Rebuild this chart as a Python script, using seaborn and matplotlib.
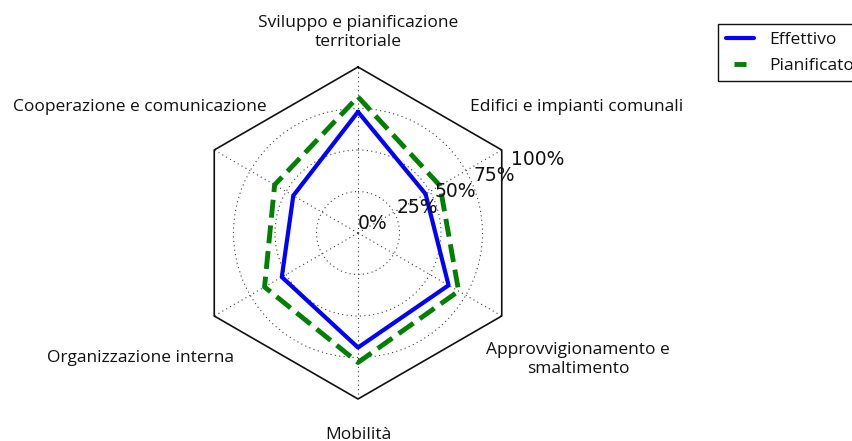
import numpy as np
import pandas as pd
import seaborn as sns
import matplotlib.pyplot as plt
from matplotlib.patches import Polygon
from matplotlib.lines import Line2D

sns.set_style("white")
plt.rcParams['font.family'] = ['Open Sans', 'DejaVu Sans']
plt.rcParams['text.color'] = '#111111'

categories = ["Sviluppo e pianificazione\nterritoriale",
              "Edifici e impianti comunali",
              "Approvvigionamento e\nsmaltimento",
              "Mobilità",
              "Organizzazione interna",
              "Cooperazione e comunicazione"]
effettivo = [0.73, 0.47, 0.63, 0.69, 0.53, 0.45]
pianificato = [0.82, 0.57, 0.70, 0.78, 0.65, 0.58]
r_ticks = [0, 0.25, 0.5, 0.75, 1.0]
r_labels = ["0%", "25%", "50%", "75%", "100%"]

n = len(categories)
angles = np.linspace(0, 2 * np.pi, n + 1)

df = pd.DataFrame({
    "angle": np.concatenate([angles, angles]),
    "value": effettivo + effettivo[:1] + pianificato + pianificato[:1],
    "serie": ["Effettivo"] * (n + 1) + ["Pianificato"] * (n + 1),
})

fig = plt.figure(figsize=(8.53, 4.41), dpi=100)
ax = fig.add_axes([192 / 853, 42 / 441, 332 / 853, 332 / 441], projection="polar")
ax.set_theta_offset(np.pi / 2)
ax.set_theta_direction(-1)

sns.lineplot(data=df[df.serie == "Effettivo"], x="angle", y="value", ax=ax,
             color="#0000ff", lw=3, sort=False, legend=False)
sns.lineplot(data=df[df.serie == "Pianificato"], x="angle", y="value", ax=ax,
             color="#008000", lw=3.5, ls="--", sort=False, legend=False)

ax.set_ylim(0, 1)
ax.set_xlabel("")
ax.set_ylabel("")
ax.set_xticks(angles[:-1])
ax.set_xticklabels([])
ax.set_yticks(r_ticks[1:])
ax.set_yticklabels([])
ax.spines["polar"].set_visible(False)

# hexagon frame
hexagon = Polygon(np.column_stack([angles[:-1], np.ones(n)]), closed=True,
                  transform=ax.transData, facecolor="none", edgecolor="none")
ax.add_patch(hexagon)
ax.plot(angles, np.ones(n + 1), color="#111111", lw=1.2, clip_on=False)
ax.grid(True, color="0.25", linestyle=(0, (1, 3)), lw=0.8)
for gl in ax.yaxis.get_gridlines() + ax.xaxis.get_gridlines():
    gl.set_clip_path(hexagon)

# radial labels
lab_theta = np.deg2rad(67.5)
for r, t in zip(r_ticks, r_labels):
    ax.text(lab_theta, r, t, ha="left", va="bottom", fontsize=13.5,
            family="DejaVu Sans")

# category labels
dist = [1.205, 1.52, 1.53, 1.215, 1.51, 1.52]
for a, lab, d in zip(angles[:-1], categories, dist):
    ax.text(a, d, lab, ha="center", va="center", fontsize=12.5,
            linespacing=1.25, clip_on=False)

# the old-style legend shows one short dash for the dashed series
handles = [
    Line2D([], [], color="#0000ff", lw=3),
    Line2D([], [], color="#008000", ls="none", marker="_", markersize=8.5,
           markeredgewidth=3.5),
]
fig.legend(handles, ["Effettivo", "Pianificato"], loc="upper left",
           bbox_to_anchor=(718 / 853, 1 - 24 / 441),
           fontsize=12.5, frameon=True, fancybox=False,
           edgecolor="#111111", framealpha=1, borderaxespad=0,
           handlelength=1.6, handletextpad=0.9, borderpad=0.45,
           labelspacing=0.55)

fig.savefig("out.png", dpi=100)
